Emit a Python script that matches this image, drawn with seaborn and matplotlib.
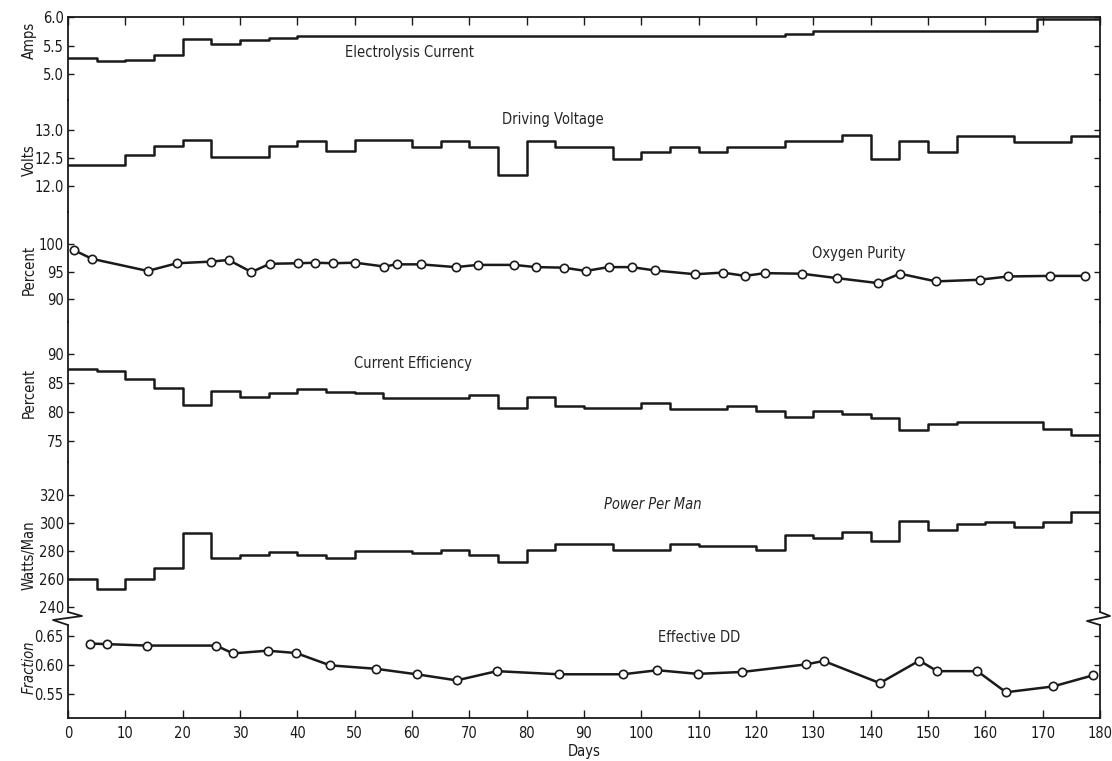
import matplotlib
matplotlib.use("Agg")
import matplotlib.pyplot as plt
import seaborn as sns
import pandas as pd
from matplotlib.lines import Line2D

# ---------------- data ----------------
cur_days = [0, 5, 10, 15, 20, 25, 30, 35, 40, 125, 130, 169, 180]
cur_amps = [5.28, 5.22, 5.25, 5.34, 5.62, 5.53, 5.59, 5.64, 5.67, 5.71, 5.75, 5.97, 5.97]

volt_days = [0, 10, 15, 20, 25, 35, 40, 45, 50, 60, 65, 70, 75, 80, 85, 95, 100,
             105, 110, 115, 125, 135, 140, 145, 150, 155, 165, 175, 180]
volt_vals = [12.38, 12.56, 12.72, 12.83, 12.52, 12.72, 12.81, 12.62, 12.82, 12.69,
             12.80, 12.69, 12.20, 12.81, 12.70, 12.49, 12.61, 12.70, 12.60, 12.70,
             12.80, 12.91, 12.49, 12.81, 12.60, 12.90, 12.79, 12.90, 12.90]

ox_days = [1.0, 4.2, 13.9, 19.0, 25.0, 28.0, 32.0, 35.2, 40.2, 43.1, 46.2, 50.1,
           55.2, 57.3, 61.5, 67.6, 71.5, 77.8, 81.6, 86.5, 90.3, 94.3, 98.3,
           102.3, 109.4, 114.2, 118.1, 121.5, 128.0, 134.1, 141.2, 145.1, 151.4,
           159.0, 164.0, 171.2, 177.3]
ox_vals = [98.9, 97.3, 95.1, 96.5, 96.8, 97.1, 94.9, 96.4, 96.5, 96.6, 96.5, 96.6,
           95.9, 96.3, 96.3, 95.8, 96.2, 96.2, 95.8, 95.7, 95.1, 95.8, 95.8, 95.2,
           94.5, 94.8, 94.2, 94.7, 94.6, 93.8, 92.9, 94.6, 93.2, 93.5, 94.1, 94.2,
           94.2]

ce_days = [0, 5, 10, 15, 20, 25, 30, 35, 40, 45, 50, 55, 70, 75, 80, 85, 90, 100,
           105, 115, 120, 125, 130, 135, 140, 145, 150, 155, 170, 175, 180]
ce_vals = [87.4, 87.1, 85.7, 84.2, 81.25, 83.6, 82.6, 83.2, 84.0, 83.45, 83.2, 82.5,
           83.0, 80.65, 82.6, 81.1, 80.65, 81.5, 80.5, 81.1, 80.2, 79.2, 80.2, 79.6,
           79.0, 76.9, 77.9, 78.2, 77.1, 76.0, 76.0]

pw_days = [0, 5, 10, 15, 20, 25, 30, 35, 40, 45, 50, 60, 65, 70, 75, 80, 85, 95,
           105, 110, 120, 125, 130, 135, 140, 145, 150, 155, 160, 165, 170, 175, 180]
pw_vals = [259.9, 253.1, 259.9, 267.6, 292.8, 274.7, 276.8, 279.2, 276.8, 274.7,
           280.0, 278.7, 281.0, 276.8, 271.9, 281.0, 284.8, 281.0, 284.8, 283.4,
           281.0, 291.1, 289.0, 293.9, 286.9, 301.2, 295.1, 299.3, 301.0, 297.5,
           301.0, 307.6, 307.6]

dd_days = [3.8, 6.8, 13.8, 25.8, 28.8, 34.8, 39.8, 45.7, 53.7, 60.8, 67.8, 74.8,
           85.6, 96.8, 102.8, 109.8, 117.6, 128.7, 131.8, 141.6, 148.5, 151.6,
           158.6, 163.6, 171.8, 178.7]
dd_vals = [0.637, 0.636, 0.6335, 0.6335, 0.620, 0.6247, 0.6206, 0.5994, 0.5935,
           0.584, 0.5735, 0.5894, 0.584, 0.584, 0.591, 0.5847, 0.588, 0.601, 0.607,
           0.5688, 0.6076, 0.5894, 0.5894, 0.553, 0.563, 0.582]

x_ticks = list(range(0, 190, 10))
amps_ticks = [5.0, 5.5, 6.0]
volt_ticks = [12.0, 12.5, 13.0]
ox_ticks = [90, 95, 100]
ce_ticks = [75, 80, 85, 90]
pw_ticks = [240, 260, 280, 300, 320]
dd_ticks = [0.55, 0.60, 0.65]

# ---------------- style ----------------
sns.set_theme(style="white")
plt.rcParams['font.family'] = ['DejaVu Sans']
plt.rcParams['font.stretch'] = 'condensed'

W, H = 1112, 761
fig = plt.figure(figsize=(W / 100, H / 100), dpi=100)
X0, X1 = 68, 1100
LW = 1.8
SPW = 1.3
FS = 10


def panel(top_px, bot_px, ref_val, ref_px, px_per_unit, ticks, fmt,
          top=False, bottom=False):
    ax = fig.add_axes([X0 / W, 1 - bot_px / H, (X1 - X0) / W, (bot_px - top_px) / H])
    ax.set_xlim(0, 180)
    ax.set_ylim(ref_val - (bot_px - ref_px) / px_per_unit,
                ref_val + (ref_px - top_px) / px_per_unit)
    ax.patch.set_alpha(0)
    for s in ['left', 'right']:
        ax.spines[s].set_visible(True)
        ax.spines[s].set_color('k')
        ax.spines[s].set_linewidth(SPW)
    ax.spines['top'].set_visible(top)
    ax.spines['bottom'].set_visible(bottom)
    for s in ['top', 'bottom']:
        ax.spines[s].set_color('k')
        ax.spines[s].set_linewidth(SPW)
    ax.set_yticks(ticks)
    ax.set_yticklabels([fmt.format(t) for t in ticks])
    ax.tick_params(axis='y', direction='in', left=True, right=True, length=4,
                   width=1, color='k', labelsize=FS + 0.5, pad=3, labelcolor='k')
    ax.set_xticks(x_ticks)
    ax.tick_params(axis='x', direction='in', top=top, bottom=bottom, length=6,
                   width=1, color='k', labeltop=False, labelbottom=bottom,
                   labelsize=FS + 0.5, labelcolor='k', pad=6)
    ax.grid(False)
    return ax


def steps(ax, days, vals):
    df = pd.DataFrame({'day': days, 'val': vals})
    sns.lineplot(data=df, x='day', y='val', ax=ax, drawstyle='steps-post',
                 color='k', lw=LW, estimator=None, sort=False)


def points(ax, days, vals):
    df = pd.DataFrame({'day': days, 'val': vals})
    sns.lineplot(data=df, x='day', y='val', ax=ax, color='k', lw=LW,
                 estimator=None, sort=False, marker='o', markersize=6,
                 markerfacecolor='white', markeredgecolor='k', markeredgewidth=1.2)


def ylab(ax, text, yfrac, style='normal'):
    ax.set_ylabel(text, fontsize=FS + 0.5, color='k', style=style)
    ax.yaxis.set_label_coords(-0.030, yfrac)
    ax.set_xlabel('')


# Panel 1: Electrolysis current
ax1 = panel(17, 100, 6.0, 17, 57, amps_ticks, '{:.1f}', top=True)
steps(ax1, cur_days, cur_amps)
ylab(ax1, 'Amps', 0.72)
ax1.text(59.5, 5.37, 'Electrolysis Current', fontsize=FS + 0.5, ha='center', va='center')

# Panel 2: Driving voltage
ax2 = panel(100, 212, 13.0, 130, 56, volt_ticks, '{:.1f}')
steps(ax2, volt_days, volt_vals)
ylab(ax2, 'Volts', 0.46)
ax2.text(84.5, 13.18, 'Driving Voltage', fontsize=FS + 0.5, ha='center', va='center')

# Panel 3: Oxygen purity
ax3 = panel(212, 322, 100, 244, 5.5, ox_ticks, '{:.0f}')
points(ax3, ox_days, ox_vals)
ylab(ax3, 'Percent', 0.47)
ax3.text(138, 98.2, 'Oxygen Purity', fontsize=FS + 0.5, ha='center', va='center')

# Panel 4: Current efficiency
ax4 = panel(322, 462, 90, 354, 5.8, ce_ticks, '{:.0f}')
steps(ax4, ce_days, ce_vals)
ylab(ax4, 'Percent', 0.49)
ax4.text(60.2, 88.3, 'Current Efficiency', fontsize=FS + 0.5, ha='center', va='center')

# Panel 5: Power per man
ax5 = panel(462, 612, 320, 495, 1.4, pw_ticks, '{:.0f}')
steps(ax5, pw_days, pw_vals)
ylab(ax5, 'Watts/Man', 0.38)
ax5.text(102, 313, 'Power Per Man', fontsize=FS + 0.5, ha='center', va='center',
         style='italic')

# Panel 6: Effective DD
ax6 = panel(625, 718, 0.65, 636, 580, dd_ticks, '{:.2f}', bottom=True)
points(ax6, dd_days, dd_vals)
ylab(ax6, 'Fraction', 0.55, style='italic')
ax6.text(110, 0.648, 'Effective DD', fontsize=FS + 0.5, ha='center', va='center')
ax6.set_xlabel('Days', fontsize=FS + 0.5, color='k', labelpad=2)
ax6.set_xticklabels([str(t) for t in x_ticks])


# axis break marks between panel 5 and 6
def px(x, y):
    return x / W, 1 - y / H


lx = [X0, X0 + 14, X0 - 15, X0]
ly = [612, 616, 620, 625]
rx = [X1, X1 + 10, X1 - 13, X1]
ry = [612, 616, 621, 625]
fig.add_artist(Line2D([px(a, b)[0] for a, b in zip(lx, ly)],
                      [px(a, b)[1] for a, b in zip(lx, ly)],
                      transform=fig.transFigure, color='k', lw=SPW))
fig.add_artist(Line2D([px(a, b)[0] for a, b in zip(rx, ry)],
                      [px(a, b)[1] for a, b in zip(rx, ry)],
                      transform=fig.transFigure, color='k', lw=SPW))

fig.savefig('out.png', dpi=100, facecolor='white')
